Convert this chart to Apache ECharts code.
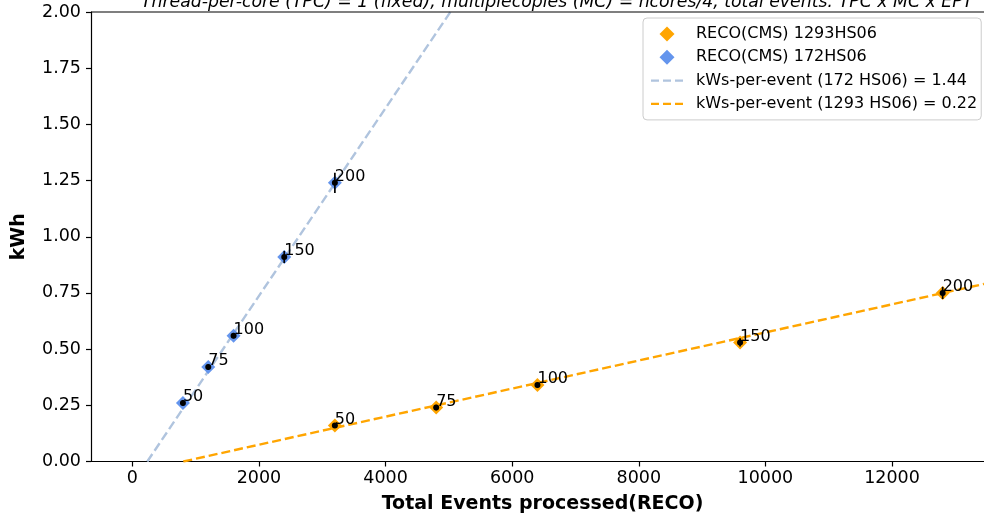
<!DOCTYPE html>
<html>
<head>
<meta charset="utf-8">
<script src="https://cdn.jsdelivr.net/npm/echarts@6/dist/echarts.min.js"></script>
<style>
  html, body { margin: 0; padding: 0; background: #fff; }
  #chart { width: 984px; height: 519px; }
</style>
</head>
<body>
<div id="chart"></div>
<script>
// Events-per-thread labels shown next to each measurement
const eptLabels = ['50', '75', '100', '150', '200'];

// 172 HS06 machine: total events processed and energy (kWh) with spread
const eventsLow = [800, 1200, 1600, 2400, 3200];
const kwhLow = [0.26, 0.42, 0.56, 0.91, 1.24];
const errLow = [0.012, 0.012, 0.012, 0.027, 0.045];

// 1293 HS06 machine
const eventsHigh = [3200, 4800, 6400, 9600, 12800];
const kwhHigh = [0.16, 0.24, 0.34, 0.53, 0.75];
const errHigh = [0.010, 0.012, 0.012, 0.018, 0.027];

// Linear fit end points (events, kWh)
const fitLow = [[237, 0], [5024, 2.0]];
const fitHigh = [[806, 0], [13453, 0.79]];

// Axis ticks
const xTicks = [0, 2000, 4000, 6000, 8000, 10000, 12000];

const FONT = 'DejaVu Sans';
const ORANGE = '#FFA500';
const BLUE = '#6495ED';
const STEEL = '#B0C4DE';

// Legend glyphs: a square diamond and a short dashed stroke
const DIAMOND_ICON = 'path://M5,0L10,5L5,10L0,5Z';
const DASH_ICON = 'path://M0,0h8v2.4h-8z M12,0h8v2.4h-8z M24,0h8v2.4h-8z';

const zip = (xs, ys) => xs.map((x, i) => [x, ys[i]]);
const zip3 = (xs, ys, es) => xs.map((x, i) => [x, ys[i], es[i]]);

function errorBars(data, z) {
  return {
    type: 'custom',
    data: data,
    z: z,
    silent: true,
    renderItem: function (params, api) {
      const x = api.value(0), y = api.value(1), e = api.value(2);
      const p1 = api.coord([x, y - e]);
      const p2 = api.coord([x, y + e]);
      return {
        type: 'line',
        shape: { x1: p1[0], y1: p1[1], x2: p2[0], y2: p2[1] },
        style: { stroke: '#000', lineWidth: 1.7 }
      };
    }
  };
}

function pointLabels(xs, ys) {
  return {
    type: 'scatter',
    data: zip(xs, ys),
    symbol: 'circle',
    symbolSize: 6,
    itemStyle: { color: '#000', opacity: 1 },
    z: 6,
    label: {
      show: true,
      position: [3, -11],
      align: 'left',
      verticalAlign: 'top',
      fontFamily: FONT,
      fontSize: 16,
      color: '#000',
      formatter: p => eptLabels[p.dataIndex]
    }
  };
}

const chart = echarts.init(document.getElementById('chart'), null, { renderer: 'canvas' });

chart.setOption({
  animation: false,
  backgroundColor: '#fff',
  title: {
    text: 'Thread-per-core (TPC) = 1 (fixed), multiplecopies (MC) = ncores/4, total events: TPC x MC x EPT',
    left: 552,
    top: -11,
    textAlign: 'center',
    textStyle: { fontFamily: FONT, fontSize: 17.3, fontStyle: 'italic', fontWeight: 'normal', color: '#000' }
  },
  grid: { left: 91, right: 0, top: 12, bottom: 57.5, show: false },
  legend: {
    orient: 'vertical',
    left: 643,
    top: 18,
    padding: [8, 4, 8, 8],
    itemGap: 7.3,
    itemWidth: 32,
    itemHeight: 15,
    backgroundColor: 'rgba(255,255,255,0.8)',
    borderColor: '#cccccc',
    borderWidth: 1,
    borderRadius: 4,
    textStyle: { fontFamily: FONT, fontSize: 16, color: '#000', padding: [0, 0, 0, 8] },
    data: [
      { name: 'RECO(CMS) 1293HS06', icon: DIAMOND_ICON },
      { name: 'RECO(CMS) 172HS06', icon: DIAMOND_ICON },
      { name: 'kWs-per-event (172 HS06) = 1.44', icon: DASH_ICON },
      { name: 'kWs-per-event (1293 HS06) = 0.22', icon: DASH_ICON }
    ]
  },
  xAxis: {
    type: 'value',
    min: -652,
    max: 13453,
    name: 'Total Events processed(RECO)',
    nameLocation: 'middle',
    nameGap: 33,
    nameTextStyle: {
      fontFamily: FONT, fontSize: 19, fontWeight: 'bold', color: '#000',
      verticalAlign: 'top', padding: [0, 0, 0, 10]
    },
    axisLine: { onZero: false, lineStyle: { color: '#000', width: 1.2 } },
    axisTick: { show: true, length: 5, lineStyle: { color: '#000', width: 1.2 }, customValues: xTicks },
    axisLabel: {
      fontFamily: FONT, fontSize: 17.5, color: '#000', margin: 8,
      customValues: xTicks, formatter: v => String(v)
    },
    splitLine: { show: false }
  },
  yAxis: {
    type: 'value',
    min: 0,
    max: 2,
    interval: 0.25,
    name: 'kWh',
    nameLocation: 'middle',
    nameGap: 62,
    nameTextStyle: { fontFamily: FONT, fontSize: 19, fontWeight: 'bold', color: '#000' },
    axisLine: { show: true, onZero: false, lineStyle: { color: '#000', width: 1.2 } },
    axisTick: { show: true, length: 5, lineStyle: { color: '#000', width: 1.2 } },
    axisLabel: { fontFamily: FONT, fontSize: 17.5, color: '#000', margin: 10, formatter: v => v.toFixed(2) },
    splitLine: { show: false }
  },
  series: [
    {
      name: 'kWs-per-event (172 HS06) = 1.44',
      type: 'line',
      data: fitLow,
      symbol: 'none',
      z: 2,
      color: STEEL,
      lineStyle: { color: STEEL, width: 2.4, type: [9, 4] }
    },
    {
      name: 'kWs-per-event (1293 HS06) = 0.22',
      type: 'line',
      data: fitHigh,
      symbol: 'none',
      z: 2,
      color: ORANGE,
      lineStyle: { color: ORANGE, width: 2.4, type: [9, 4] }
    },
    {
      name: 'RECO(CMS) 1293HS06',
      type: 'scatter',
      data: zip(eventsHigh, kwhHigh),
      symbol: 'diamond',
      symbolSize: 14,
      z: 3,
      itemStyle: { color: ORANGE, opacity: 1 }
    },
    {
      name: 'RECO(CMS) 172HS06',
      type: 'scatter',
      data: zip(eventsLow, kwhLow),
      symbol: 'diamond',
      symbolSize: 14,
      z: 3,
      itemStyle: { color: BLUE, opacity: 1 }
    },
    errorBars(zip3(eventsLow, kwhLow, errLow), 5),
    errorBars(zip3(eventsHigh, kwhHigh, errHigh), 5),
    pointLabels(eventsLow, kwhLow),
    pointLabels(eventsHigh, kwhHigh)
  ],
  graphic: [
    // top spine of the plot frame
    {
      type: 'line',
      shape: { x1: 91, y1: 12, x2: 984, y2: 12 },
      style: { stroke: '#000', lineWidth: 1.2 },
      z: 10
    }
  ]
});
</script>
</body>
</html>
